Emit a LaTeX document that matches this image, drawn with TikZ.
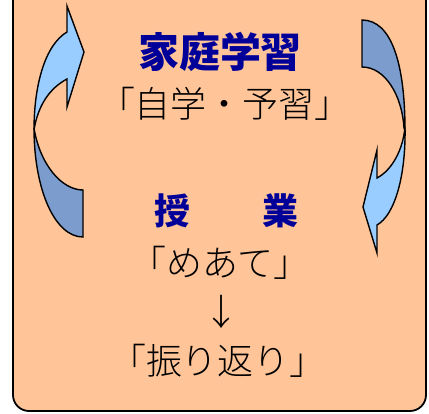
\documentclass[tikz,border=0pt]{standalone}
\usepackage{fontspec}
\newfontfamily\cjk{Noto Sans CJK JP}
\newfontfamily\cjklight{Noto Sans CJK JP Light}
\definecolor{peach}{HTML}{FFC599}
\definecolor{navy}{HTML}{000099}
\definecolor{lightblue}{HTML}{99CCFF}
\definecolor{darkblue}{HTML}{7B9CCC}
\tikzset{
  frame/.style={draw=black, line width=1.8pt, fill=peach, rounded corners=16pt},
  bandlight/.style={draw=black, line width=1.4pt, fill=lightblue, line join=miter},
  banddark/.style={draw=black, line width=1.4pt, fill=darkblue, line join=miter},
  title/.style={font=\cjk\bfseries\fontsize{41}{44}\selectfont, text=navy, inner sep=0pt},
  body/.style={font=\cjklight\fontsize{36}{40}\selectfont, text=black, inner sep=0pt}
}
\begin{document}
\begin{tikzpicture}[x=1pt,y=-1pt]
\useasboundingbox (0,0) rectangle (429,413);
\draw[frame] (13,-30) rectangle (426,411);
% left curved arrow
\draw[banddark] (34,128) .. controls (34,190) and (55,237) .. (83,237) -- (83,190) .. controls (62,190) and (40,165) .. (34,128) -- cycle;
\draw[bandlight] (34,130) .. controls (34,85) and (45,45) .. (67,32) -- (67,6) -- (84,52) -- (67,107) -- (67,79) .. controls (50,88) and (38,105) .. (34,130) -- cycle;
% right curved arrow
\draw[banddark] (362,20) .. controls (392,20) and (405,65) .. (405,130) -- (404,128) .. controls (402,95) and (385,67) .. (362,67) -- cycle;
\draw[bandlight] (405,127) .. controls (406,175) and (395,215) .. (377,225) -- (377,253) -- (363,207) -- (377,150) -- (377,178) .. controls (392,170) and (403,150) .. (405,127) -- cycle;
% texts
\node[title] (home) at (220,52) {家庭学習};
\node[body] (self) at (225,104) {「自学・予習」};
\node[title, font=\cjk\bfseries\fontsize{36}{40}\selectfont] (class) at (226,211) {授　　業};
\node[body] (aim) at (220,263) {「めあて」};
\node[body] (down) at (221,312) {↓};
\node[body] (review) at (218,361) {「振り返り」};
\end{tikzpicture}
\end{document}
